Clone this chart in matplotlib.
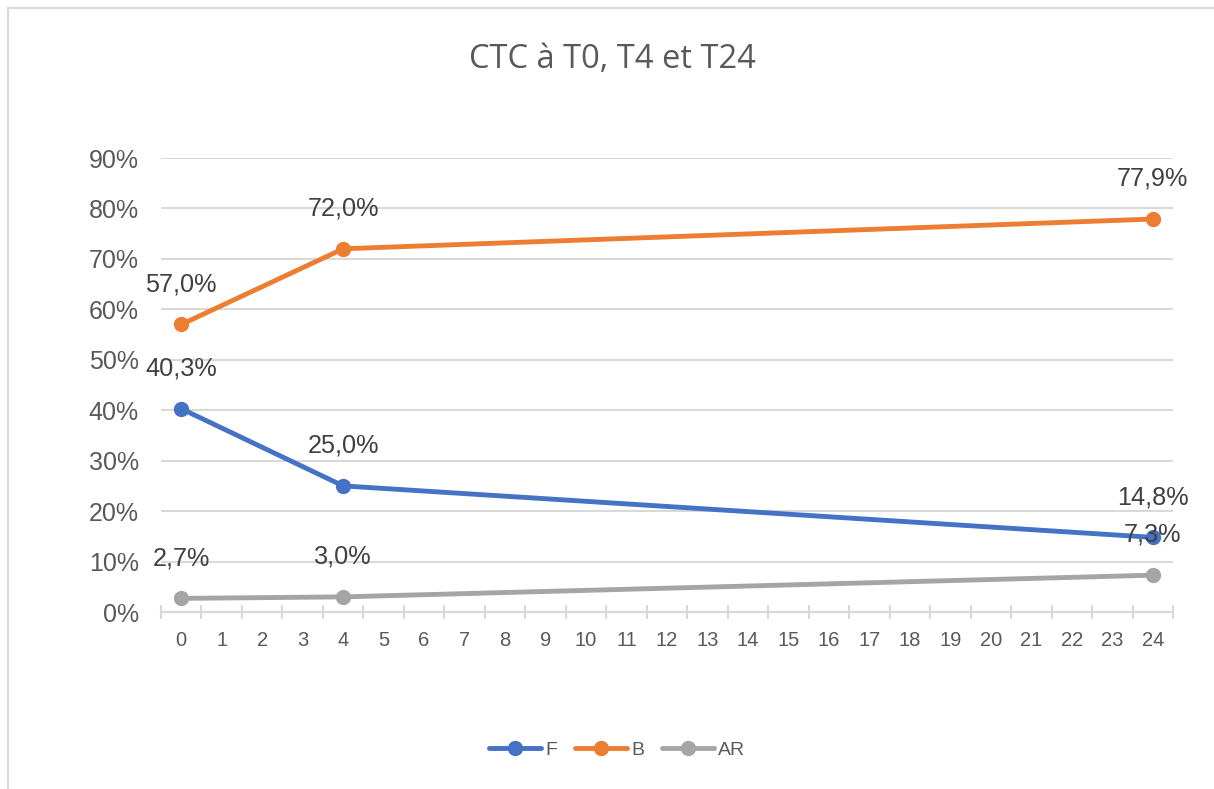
import numpy as np
import matplotlib.pyplot as plt
from matplotlib.patches import Rectangle

# data
hours = [0, 4, 24]
f_vals = [0.403, 0.250, 0.148]
b_vals = [0.570, 0.720, 0.779]
ar_vals = [0.027, 0.030, 0.073]
series_names = ['F', 'B', 'AR']
series_colors = ['#4472C4', '#ED7D31', '#A5A5A5']
categories = list(range(25))

plt.rcParams['font.family'] = ['Liberation Sans', 'DejaVu Sans']

fig = plt.figure(figsize=(12.14, 7.89), dpi=100)
ax = fig.add_axes([161 / 1214, 1 - 612 / 789, (1173 - 161) / 1214, (612 - 158) / 789])

# outer chart border (cropped on right and bottom like the screenshot)
fig.patches.append(Rectangle((8 / 1214, -0.1), 1.2, 1.1 - 8 / 789, transform=fig.transFigure,
                             fill=False, edgecolor='#D9D9D9', linewidth=1.5))

for vals, name, col in zip([f_vals, b_vals, ar_vals], series_names, series_colors):
    ax.plot(hours, vals, color=col, linewidth=3.5, marker='o', markersize=10,
            label=name, solid_capstyle='round', zorder=3)
    for x, v in zip(hours, vals):
        ax.annotate(f'{v * 100:.1f}%'.replace('.', ','), (x, v), xytext=(0, 29),
                    textcoords='offset points', ha='center', va='center',
                    fontsize=18.2, color='#404040', annotation_clip=False, zorder=4)

ax.set_xlim(-0.5, 24.5)
ax.set_ylim(0, 0.9)

ax.set_yticks(np.arange(0, 0.91, 0.1))
ax.set_yticklabels([f'{int(round(t * 100))}%' for t in np.arange(0, 0.91, 0.1)])
ax.tick_params(axis='y', length=0, pad=16, labelsize=18, labelcolor='#595959')
ax.grid(axis='y', color='#D9D9D9', linewidth=1.5, zorder=0)

# category axis: tick marks between categories, labels centered
ax.set_xticks(np.arange(-0.5, 25, 1))
ax.set_xticklabels([])
ax.tick_params(axis='x', which='major', direction='inout', length=9.5, width=1.5, color='#D9D9D9')
ax.set_xticks(categories, minor=True)
ax.set_xticklabels([str(c) for c in categories], minor=True)
ax.tick_params(axis='x', which='minor', length=0, pad=14, labelsize=14.5, labelcolor='#595959')

for s in ['top', 'right', 'left']:
    ax.spines[s].set_visible(False)
ax.spines['bottom'].set_color('#D9D9D9')
ax.spines['bottom'].set_linewidth(1.5)

fig.text(612 / 1214, 1 - 60 / 789, 'CTC à T0, T4 et T24', ha='center', va='center',
         fontsize=23.5, color='#595959', family=['Open Sans', 'DejaVu Sans'])

fig.legend(loc='center', bbox_to_anchor=(617 / 1214, 1 - 750 / 789), ncol=3, frameon=False,
           fontsize=14, labelcolor='#595959', handlelength=2.7, columnspacing=0.9,
           handletextpad=0.2)

fig.savefig('out.png', dpi=100, facecolor='white')
